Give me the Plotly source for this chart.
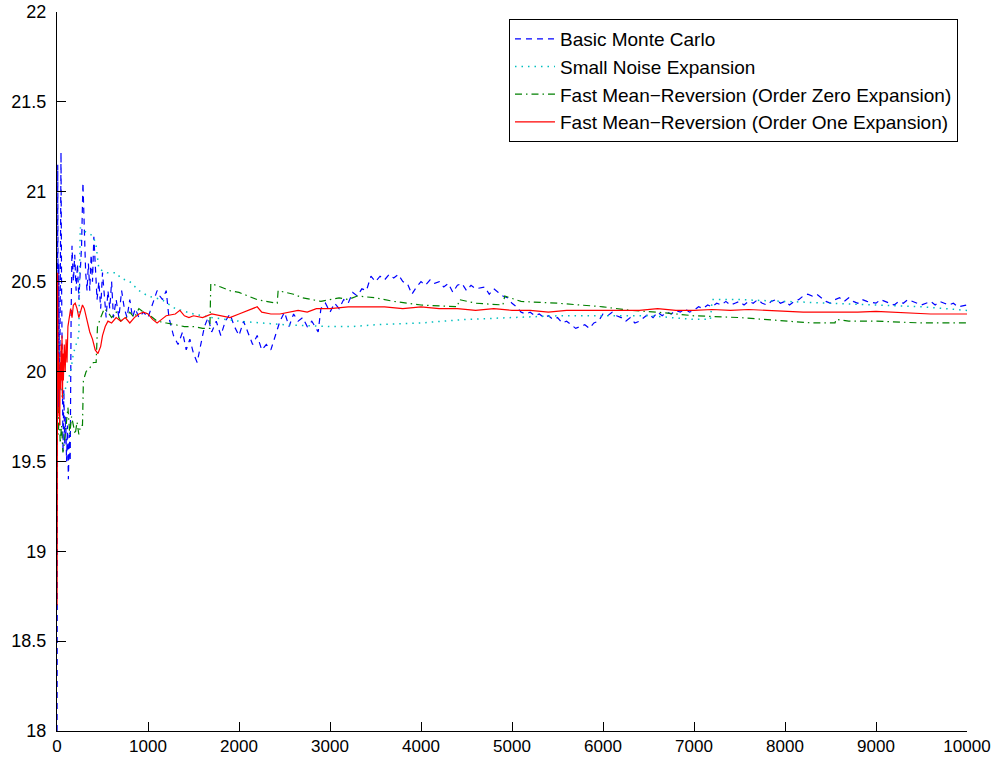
import plotly.graph_objects as go

# ---------------- data ----------------
mc_x = [1, 3, 5, 8, 12, 16, 20, 25, 30, 38, 44, 50, 55, 60, 66, 75, 85, 95, 105, 115,
        125, 135, 145, 155, 165, 180, 195, 210, 225, 240, 255, 270, 285, 300, 315, 330,
        345, 360, 375, 390, 405, 420, 440, 460, 480, 500, 520, 540, 560, 580, 600, 620,
        650, 680, 710, 740, 770, 800, 830, 860, 900, 950, 1000, 1050, 1100, 1130, 1160,
        1200, 1230, 1280, 1330, 1380, 1420, 1460, 1500, 1540, 1580, 1620, 1660, 1700,
        1750, 1800, 1850, 1900, 1950, 2000, 2050, 2100, 2150, 2200, 2250, 2300, 2350,
        2400, 2450, 2500, 2550, 2600, 2650, 2700, 2750, 2800, 2870, 2900, 2950, 3000,
        3050, 3100, 3150, 3200, 3250, 3300, 3350, 3400, 3450, 3500, 3550, 3600, 3650,
        3700, 3750, 3800, 3850, 3900, 3950, 4000, 4050, 4100, 4150, 4200, 4250, 4300,
        4350, 4400, 4450, 4500, 4550, 4600, 4700, 4750, 4800, 4850, 4900, 4950, 5000,
        5050, 5100, 5150, 5200, 5250, 5300, 5350, 5400, 5450, 5500, 5550, 5600, 5650,
        5700, 5750, 5800, 5850, 5900, 5950, 6000, 6050, 6100, 6150, 6200, 6250, 6300,
        6350, 6400, 6450, 6500, 6550, 6600, 6650, 6700, 6750, 6800, 6850, 6900, 6950,
        7000, 7050, 7100, 7150, 7200, 7250, 7300, 7350, 7400, 7450, 7500, 7550, 7600,
        7650, 7700, 7750, 7800, 7850, 7900, 7950, 8000, 8050, 8100, 8150, 8200, 8250,
        8300, 8350, 8400, 8450, 8500, 8550, 8600, 8650, 8700, 8750, 8800, 8850, 8900,
        9000, 9050, 9100, 9150, 9200, 9250, 9300, 9350, 9400, 9450, 9500, 9550, 9600,
        9650, 9700, 9750, 9800, 9850, 9900, 10000]
mc_y = [18.0, 18.8, 19.6, 21.15, 20.4, 19.8, 20.6, 20.1, 19.9, 21.2, 21.22, 20.5, 20.2,
        19.8, 19.55, 19.9, 19.6, 19.75, 19.5, 19.7, 19.4, 19.65, 19.5, 20.3, 20.7, 20.5,
        20.65, 20.45, 20.6, 20.4, 20.55, 20.7, 21.05, 20.8, 20.55, 20.45, 20.6, 20.45,
        20.65, 20.5, 20.75, 20.6, 20.4, 20.5, 20.35, 20.55, 20.4, 20.3, 20.45, 20.35,
        20.5, 20.3, 20.4, 20.3, 20.45, 20.35, 20.3, 20.4, 20.3, 20.35, 20.3, 20.33, 20.3,
        20.38, 20.45, 20.42, 20.4, 20.45, 20.3, 20.2, 20.15, 20.22, 20.12, 20.18, 20.1,
        20.05, 20.15, 20.25, 20.3, 20.22, 20.28, 20.2, 20.28, 20.32, 20.25, 20.2, 20.28,
        20.22, 20.15, 20.2, 20.12, 20.15, 20.12, 20.2, 20.28, 20.33, 20.25, 20.32, 20.28,
        20.3, 20.25, 20.28, 20.22, 20.35, 20.38, 20.33, 20.38, 20.35, 20.4, 20.38, 20.44,
        20.42, 20.46, 20.45, 20.53, 20.5, 20.53, 20.51, 20.54, 20.52, 20.54, 20.5, 20.49,
        20.43, 20.47, 20.5, 20.48, 20.51, 20.49, 20.5, 20.47, 20.49, 20.44, 20.48, 20.49,
        20.45, 20.48, 20.46, 20.47, 20.43, 20.46, 20.44, 20.42, 20.41, 20.38, 20.36,
        20.33, 20.32, 20.33, 20.31, 20.32, 20.3, 20.31, 20.29, 20.3, 20.27, 20.28, 20.26,
        20.24, 20.25, 20.26, 20.24, 20.27, 20.28, 20.32, 20.31, 20.33, 20.31, 20.3, 20.28,
        20.3, 20.27, 20.28, 20.3, 20.32, 20.3, 20.33, 20.31, 20.33, 20.32, 20.34, 20.33,
        20.35, 20.33, 20.34, 20.36, 20.35, 20.37, 20.36, 20.38, 20.37, 20.39, 20.37,
        20.38, 20.39, 20.37, 20.39, 20.38, 20.4, 20.38, 20.37, 20.39, 20.4, 20.38, 20.39,
        20.37, 20.39, 20.4, 20.42, 20.43, 20.42, 20.43, 20.41, 20.39, 20.38, 20.4, 20.41,
        20.39, 20.41, 20.39, 20.38, 20.4, 20.39, 20.38, 20.4, 20.39, 20.38, 20.37, 20.39,
        20.38, 20.4, 20.39, 20.38, 20.37, 20.38, 20.39, 20.37, 20.39, 20.38, 20.37, 20.38,
        20.36, 20.37]

sn_x = [10, 30, 60, 90, 120, 150, 180, 210, 240, 255, 300, 350, 400, 430, 460, 550,
        650, 700, 800, 900, 1000, 1150, 1300, 1500, 1700, 2000, 2500, 3000, 3250, 3500,
        4000, 4500, 5000, 5500, 6000, 6500, 7000, 7180, 7200, 7500, 8000, 8500, 9000,
        9500, 10000]
sn_y = [20.3, 19.95, 19.85, 19.9, 19.95, 20.0, 20.1, 20.15, 20.2, 20.8, 20.78, 20.77,
        20.75, 20.7, 20.57, 20.55, 20.55, 20.52, 20.5, 20.45, 20.42, 20.4, 20.35, 20.32,
        20.3, 20.28, 20.26, 20.25, 20.25, 20.26, 20.27, 20.29, 20.3, 20.31, 20.31, 20.31,
        20.29, 20.29, 20.4, 20.4, 20.39, 20.38, 20.37, 20.36, 20.34]

fz_x = [5, 15, 25, 35, 50, 65, 80, 100, 120, 140, 160, 180, 200, 220, 240, 260, 280,
        290, 320, 360, 400, 430, 445, 480, 520, 560, 600, 650, 700, 760, 800, 850, 900,
        950, 1000, 1050, 1100, 1200, 1300, 1400, 1500, 1600, 1680, 1690, 1800, 1900,
        2000, 2100, 2200, 2300, 2420, 2430, 2500, 2600, 2700, 2800, 2900, 3000, 3100,
        3200, 3300, 3500, 3700, 4000, 4400, 4420, 4600, 4900, 4920, 5100, 5500, 6000,
        6300, 6600, 7000, 7500, 8000, 8300, 8550, 8560, 8700, 9000, 9500, 10000]
fz_y = [19.9, 19.65, 19.8, 19.6, 19.7, 19.55, 19.6, 19.7, 19.8, 19.65, 19.75, 19.7,
        19.65, 19.72, 19.65, 19.7, 19.7, 19.95, 20.0, 20.02, 20.05, 20.05, 20.25, 20.3,
        20.35, 20.33, 20.3, 20.33, 20.28, 20.3, 20.33, 20.3, 20.35, 20.33, 20.32, 20.3,
        20.28, 20.27, 20.26, 20.25, 20.25, 20.24, 20.24, 20.49, 20.47, 20.45, 20.44,
        20.42, 20.4, 20.39, 20.38, 20.45, 20.44, 20.43, 20.41, 20.4, 20.39, 20.4, 20.41,
        20.4, 20.42, 20.41, 20.39, 20.37, 20.36, 20.4, 20.38, 20.37, 20.42, 20.39, 20.38,
        20.36, 20.34, 20.33, 20.31, 20.3, 20.28, 20.27, 20.27, 20.29, 20.28, 20.28, 20.27,
        20.27]

fo_x = [1, 3, 5, 7, 10, 14, 18, 22, 26, 30, 35, 40, 45, 50, 55, 60, 65, 70, 80, 90,
        100, 110, 120, 135, 150, 165, 180, 200, 220, 240, 260, 280, 300, 330, 360, 390,
        420, 450, 480, 500, 530, 560, 600, 650, 700, 750, 800, 850, 900, 950, 1000, 1050,
        1100, 1150, 1200, 1300, 1350, 1400, 1450, 1500, 1600, 1700, 1800, 1900, 2000,
        2100, 2200, 2250, 2350, 2450, 2550, 2650, 2750, 2850, 3000, 3200, 3400, 3600,
        3800, 4000, 4200, 4400, 4600, 4800, 5000, 5200, 5400, 5600, 5800, 6000, 6200,
        6400, 6600, 6800, 7000, 7200, 7400, 7600, 7800, 8000, 8200, 8400, 8600, 8800,
        9000, 9200, 9400, 9600, 9800, 10000]
fo_y = [18.7, 19.3, 20.0, 20.55, 20.2, 19.9, 20.1, 19.75, 20.0, 19.7, 20.05, 19.9, 20.15,
        19.95, 20.2, 19.85, 20.1, 19.95, 20.15, 20.0, 20.18, 20.05, 20.25, 20.3, 20.35,
        20.3, 20.37, 20.38, 20.35, 20.3, 20.33, 20.37, 20.35, 20.28, 20.22, 20.18, 20.12,
        20.1, 20.14, 20.2, 20.25, 20.28, 20.27, 20.3, 20.28, 20.3, 20.27, 20.3, 20.32,
        20.33, 20.32, 20.29, 20.27, 20.29, 20.31, 20.32, 20.34, 20.31, 20.3, 20.31, 20.3,
        20.32, 20.31, 20.3, 20.32, 20.34, 20.36, 20.33, 20.32, 20.32, 20.33, 20.34, 20.33,
        20.35, 20.35, 20.36, 20.36, 20.36, 20.35, 20.36, 20.35, 20.35, 20.34, 20.35,
        20.34, 20.34, 20.33, 20.34, 20.34, 20.34, 20.34, 20.34, 20.35, 20.34, 20.34,
        20.345, 20.34, 20.345, 20.34, 20.335, 20.33, 20.33, 20.33, 20.33, 20.335, 20.33,
        20.325, 20.32, 20.32, 20.32]

names = ["Basic Monte Carlo", "Small Noise Expansion",
         "Fast Mean\u2212Reversion (Order Zero Expansion)",
         "Fast Mean\u2212Reversion (Order One Expansion)"]
x_ticks = [0, 1000, 2000, 3000, 4000, 5000, 6000, 7000, 8000, 9000, 10000]
y_ticks = [18, 18.5, 19, 19.5, 20, 20.5, 21, 21.5, 22]

# ---------------- figure ----------------
FONT = "Liberation Sans, Arial, Helvetica, sans-serif"
fig = go.Figure()
fig.add_trace(go.Scatter(x=mc_x, y=mc_y, mode="lines", name=names[0],
                         line=dict(color="#0000FF", width=1.2, dash="6px,5px")))
fig.add_trace(go.Scatter(x=sn_x, y=sn_y, mode="lines", name=names[1],
                         line=dict(color="#00BFBF", width=1.5, dash="1.5px,5px")))
fig.add_trace(go.Scatter(x=fz_x, y=fz_y, mode="lines", name=names[2],
                         line=dict(color="#008000", width=1.2, dash="7px,4px,1.5px,4px")))
fig.add_trace(go.Scatter(x=fo_x, y=fo_y, mode="lines", name=names[3],
                         line=dict(color="#FF0000", width=1.2)))

fig.update_layout(
    width=1000, height=759,
    margin=dict(l=57, r=33, t=12, b=28, autoexpand=False),
    paper_bgcolor="white", plot_bgcolor="white",
    font=dict(family=FONT, size=17, color="black"),
    showlegend=True,
    legend=dict(x=0.9901, y=0.9903, xanchor="right", yanchor="top",
                bgcolor="white", bordercolor="black", borderwidth=1,
                font=dict(family=FONT, size=19, color="black"),
                tracegroupgap=0, itemwidth=40),
)
fig.update_xaxes(range=[0, 10000], tickvals=x_ticks,
                 ticktext=[str(v) for v in x_ticks], automargin=False,
                 showgrid=False, zeroline=False, showline=True, linecolor="black",
                 linewidth=1, ticks="inside", ticklen=9, tickcolor="black",
                 tickfont=dict(size=17))
fig.update_yaxes(range=[18, 22], tickvals=y_ticks,
                 ticktext=[("%g" % v) for v in y_ticks], automargin=False,
                 showgrid=False, zeroline=False, showline=True, linecolor="black",
                 linewidth=1, ticks="inside", ticklen=9, tickcolor="black",
                 tickfont=dict(size=18), ticklabelstandoff=6)

fig.write_html(
    "out.html",
    config={"displayModeBar": False},
    post_script="document.body.style.margin='0';document.body.style.padding='0';"
                "document.body.style.overflow='hidden';",
)
